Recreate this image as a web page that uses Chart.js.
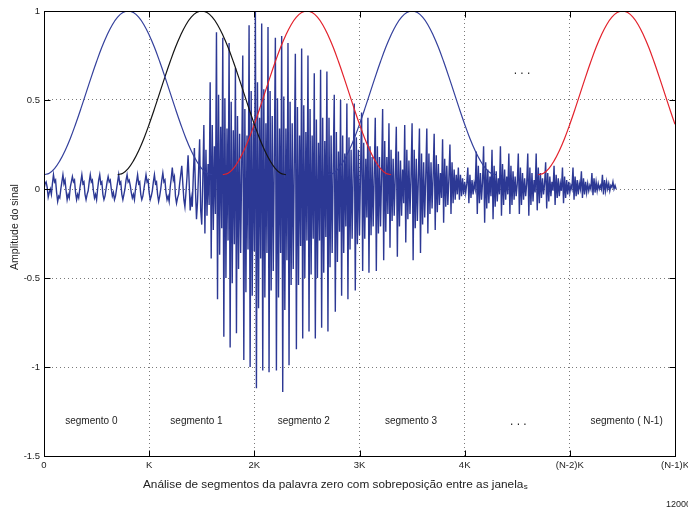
<!DOCTYPE html>
<html lang="pt">
<head>
<meta charset="utf-8">
<title>Análise de segmentos da palavra zero</title>
<script src="https://cdn.jsdelivr.net/npm/chart.js@4.4.0/dist/chart.umd.min.js"></script>
<style>
  html, body { margin: 0; padding: 0; background: #fff; }
  canvas { display: block; }
</style>
</head>
<body>
<canvas id="chart" width="688" height="510"></canvas>
<script>
// Samples between two stored values of the speech signal.
const SAMPLE_STEP = 10;

// Speech signal of the word "zero" (one value every SAMPLE_STEP samples).
const signal = [
  // fricative /z/
  0.0, 0.03, 0.04, 0.01, -0.045, -0.02, 0.0, -0.03, 0.03,
  0.08, 0.04, 0.05, -0.02, -0.07, -0.04, -0.05, 0.0, 0.04,
  0.08, 0.03, 0.05, -0.01, -0.06, -0.03, -0.05, 0.01, 0.04,
  0.07, 0.04, 0.05, -0.02, -0.06, -0.03, -0.05, 0.0, 0.04,
  0.08, 0.03, 0.04, -0.03, -0.06, -0.03, -0.01, 0.04,
  0.08, 0.04, 0.05, -0.01, -0.05, -0.03, -0.06, 0.0, 0.05,
  0.08, 0.03, 0.04, -0.03, -0.06, -0.04, 0.0, 0.04,
  0.07, 0.04, 0.05, 0.0, -0.04, -0.02, -0.06, -0.04, 0.0, 0.04,
  0.08, 0.03, 0.04, -0.03, -0.06, -0.03, 0.0, 0.05,
  0.08, 0.04, 0.05, 0.02, -0.02, -0.05, -0.03, -0.06, 0.0, 0.04,
  0.08, 0.03, 0.04, -0.03, -0.06, -0.04, 0.0, 0.04,
  0.08, 0.04, 0.05, -0.02, -0.06, -0.04, -0.01, 0.04,
  0.08, 0.03, 0.04, -0.03, -0.07, -0.04, 0.0, 0.05,
  0.09, 0.04, 0.05, -0.02, -0.06, -0.04, -0.07, 0.01, 0.06,
  0.12, 0.05, 0.07, -0.04, -0.08, -0.05, -0.03, 0.03, 0.08,
  0.13, 0.03, -0.06, -0.1, -0.02, 0.07,
  0.19, 0.04, -0.12, -0.05, -0.1, 0.08,
  0.23, 0.0, -0.17, -0.07, 0.1,
  0.28, -0.12, -0.2, 0.05,
  // vowels /e/ - /r/ - /o/
  0.36, -0.25, 0.22, -0.15, 0.14, -0.09,
  0.60, -0.39, 0.36, -0.23, 0.24, -0.14,
  0.88, -0.62, 0.53, -0.37, 0.35, -0.22,
  0.85, -0.83, 0.51, -0.50, 0.34, -0.29,
  0.82, -0.89, 0.49, -0.53, 0.33, -0.31,
  0.68, -0.81, 0.41, -0.45, 0.31, -0.36, 0.14,
  0.75, -0.96, 0.45, -0.58, 0.30, -0.34,
  0.92, -1.00, 0.55, -0.60, 0.37, -0.35,
  1.00, -1.12, 0.60, -0.67, 0.40, -0.39,
  0.93, -1.02, 0.56, -0.61, 0.37, -0.36,
  0.91, -1.03, 0.55, -0.57, 0.41, -0.46, 0.18,
  0.85, -1.02, 0.51, -0.61, 0.34, -0.36,
  0.86, -1.14, 0.52, -0.68, 0.34, -0.40,
  0.82, -0.99, 0.49, -0.54, 0.37, -0.45, 0.16,
  0.76, -0.90, 0.46, -0.54, 0.30, -0.32,
  0.79, -0.84, 0.47, -0.50, 0.32, -0.29,
  0.75, -0.80, 0.45, -0.48, 0.30, -0.28,
  0.65, -0.84, 0.39, -0.50, 0.26, -0.29,
  0.67, -0.78, 0.40, -0.47, 0.27, -0.27,
  0.66, -0.80, 0.40, -0.44, 0.30, -0.36, 0.13,
  0.53, -0.69, 0.32, -0.41, 0.21, -0.24,
  0.50, -0.60, 0.30, -0.36, 0.20, -0.21,
  0.48, -0.62, 0.29, -0.34, 0.22, -0.28, 0.10,
  0.48, -0.57, 0.29, -0.31, 0.22, -0.26, 0.10,
  0.43, -0.46, 0.26, -0.28, 0.17, -0.16,
  0.40, -0.47, 0.24, -0.26, 0.18, -0.21, 0.08,
  0.40, -0.46, 0.24, -0.25, 0.18, -0.21, 0.08,
  0.45, -0.40, 0.27, -0.24, 0.18, -0.14,
  0.37, -0.33, 0.22, -0.18, 0.17, -0.15, 0.07,
  0.35, -0.38, 0.21, -0.21, 0.16, -0.15, 0.11, -0.08,
  0.36, -0.30, 0.22, -0.17, 0.16, -0.14, 0.07,
  0.37, -0.40, 0.22, -0.22, 0.17, -0.18, 0.07,
  0.34, -0.36, 0.20, -0.20, 0.15, -0.16, 0.07,
  0.34, -0.25, 0.20, -0.14, 0.15, -0.11, 0.07,
  0.31, -0.23, 0.19, -0.13, 0.14, -0.09, 0.09, -0.05,
  0.28, -0.19, 0.17, -0.10, 0.13, -0.09, 0.06,
  0.25, -0.14, 0.15, -0.08, 0.11, -0.06, 0.08, -0.03,
  0.12, -0.06, 0.08, -0.04, 0.06, -0.03, 0.04, -0.02, 0.03,
  0.12, -0.08, 0.08, -0.05, 0.05, -0.03, 0.03, 0.0,
  0.21, -0.14, 0.13, -0.08, 0.09, -0.06, 0.04,
  0.24, -0.19, 0.15, -0.11, 0.11, -0.08, 0.07, -0.04,
  0.22, -0.17, 0.13, -0.10, 0.10, -0.07, 0.06, -0.03,
  0.24, -0.15, 0.14, -0.09, 0.11, -0.06, 0.07, -0.03,
  0.20, -0.14, 0.13, -0.09, 0.10, -0.06, 0.07, -0.04, 0.03,
  0.20, -0.14, 0.12, -0.09, 0.09, -0.06, 0.06, -0.04, 0.03,
  0.20, -0.15, 0.12, -0.09, 0.09, -0.07, 0.05, -0.02,
  0.20, -0.12, 0.12, -0.08, 0.09, -0.05, 0.06, -0.03, 0.03,
  0.15, -0.11, 0.09, -0.07, 0.07, -0.04, 0.04, -0.01,
  0.13, -0.09, 0.08, -0.05, 0.06, -0.04, 0.03, -0.01,
  0.12, -0.08, 0.07, -0.05, 0.05, -0.03, 0.04, -0.02, 0.02, 0.0,
  0.12, -0.06, 0.07, -0.04, 0.05, -0.03, 0.03, 0.0,
  0.10, -0.05, 0.06, -0.03, 0.04, -0.02, 0.03, -0.01, 0.02, 0.0,
  0.09, -0.035, 0.06, -0.02, 0.04, -0.01, 0.03, 0.0, 0.02, 0.0,
  0.08, -0.03, 0.05, -0.01, 0.04, 0.0, 0.03, -0.01, 0.02, 0.01,
  0.04, 0.0, 0.02, 0.0
];

// Hamming window, 33 values across one window.
const hammingShape = [
  0.080, 0.089, 0.115, 0.158, 0.215, 0.284, 0.364, 0.450, 0.540,
  0.630, 0.716, 0.796, 0.865, 0.923, 0.965, 0.991, 1.000,
  0.991, 0.965, 0.923, 0.865, 0.796, 0.716, 0.630, 0.540,
  0.450, 0.364, 0.284, 0.215, 0.158, 0.115, 0.089, 0.080
];
const WINDOW_LENGTH = 1600;                      // samples per window
const windowStarts = [0, 700, 1700, 2700, 4700]; // first sample of each window
const windowColors = ['#34409c', '#151515', '#e3222c', '#34409c', '#e3222c'];

// Axes
const xTickValues = [0, 1000, 2000, 3000, 4000, 5000, 6000];
const xTickLabels = ['0', 'K', '2K', '3K', '4K', '(N-2)K', '(N-1)K'];
const yTickValues = [-1.5, -1, -0.5, 0, 0.5, 1];
const yTickLabels = ['-1.5', '-1', '-0.5', '0', '0.5', '1'];

// Texts placed inside the plot
const segmentLabels = ['segmento 0', 'segmento 1', 'segmento 2', 'segmento 3', '. . .', 'segmento ( N-1)'];
const segmentLabelX = [450, 1450, 2470, 3490, 4510, 5540];
const SEGMENT_LABEL_Y = -1.305;
const xTitle = 'Análise de segmentos da palavra zero com sobreposição entre as janela';
const xTitleTail = 's';
const yTitle = 'Amplitude do sinal';
const cornerNote = '12000';

const FONT = '"Liberation Sans", Arial, Helvetica, sans-serif';
const TEXT = '#222';

const datasets = [];
windowStarts.forEach((start, w) => {
  const step = WINDOW_LENGTH / (hammingShape.length - 1);
  datasets.push({
    data: hammingShape.map((v, k) => ({ x: start + k * step, y: v })),
    borderColor: windowColors[w],
    borderWidth: 1.2,
    tension: 0.4,
    pointRadius: 0,
    order: 0
  });
});
datasets.push({
  data: signal.map((v, i) => ({ x: i * SAMPLE_STEP, y: v })),
  borderColor: '#2c3894',
  borderWidth: 1.4,
  tension: 0,
  pointRadius: 0,
  order: 1
});

// Box, inward tick marks and the free texts.
const decorations = {
  id: 'decorations',
  afterDatasetsDraw(chart) {
    const { ctx, chartArea: a, scales: { x, y } } = chart;
    const L = Math.round(a.left) + 0.5, R = Math.round(a.right) + 0.5;
    const T = Math.round(a.top) + 0.5, B = Math.round(a.bottom) + 0.5;
    ctx.save();
    ctx.strokeStyle = '#000';
    ctx.lineWidth = 1;
    ctx.beginPath();
    xTickValues.forEach(v => {
      const px = Math.round(x.getPixelForValue(v)) + 0.5;
      ctx.moveTo(px, B); ctx.lineTo(px, B - 6);
      ctx.moveTo(px, T); ctx.lineTo(px, T + 6);
    });
    yTickValues.forEach(v => {
      const py = Math.round(y.getPixelForValue(v)) + 0.5;
      ctx.moveTo(L, py); ctx.lineTo(L + 6, py);
      ctx.moveTo(R, py); ctx.lineTo(R - 6, py);
    });
    ctx.stroke();
    ctx.strokeRect(L, T, R - L, B - T);

    ctx.fillStyle = TEXT;
    ctx.textBaseline = 'middle';
    ctx.textAlign = 'center';
    segmentLabels.forEach((s, i) => {
      const dots = s.startsWith('.');
      ctx.font = (dots ? '12px ' : '10px ') + FONT;
      ctx.fillText(s, x.getPixelForValue(segmentLabelX[i]), y.getPixelForValue(SEGMENT_LABEL_Y));
    });
    ctx.font = '12px ' + FONT;
    ctx.fillText('. . .', x.getPixelForValue(4545), y.getPixelForValue(0.665));

    // axis titles
    ctx.textAlign = 'left';
    ctx.font = '11.8px ' + FONT;
    const tx = 143, ty = 485;
    ctx.fillText(xTitle, tx, ty);
    const w = ctx.measureText(xTitle).width;
    ctx.font = '8px ' + FONT;
    ctx.fillText(xTitleTail, tx + w + 0.5, ty + 2);

    ctx.font = '9px ' + FONT;
    ctx.fillText(cornerNote, 666, 505);

    ctx.save();
    ctx.translate(15, 227);
    ctx.rotate(-Math.PI / 2);
    ctx.textAlign = 'center';
    ctx.font = '10.5px ' + FONT;
    ctx.fillText(yTitle, 0, 0);
    ctx.restore();
    ctx.restore();
  }
};

new Chart(document.getElementById('chart'), {
  type: 'line',
  data: { datasets },
  plugins: [decorations],
  options: {
    responsive: false,
    devicePixelRatio: 1,
    animation: false,
    events: [],
    layout: { padding: { top: 11, right: 13, left: 0, bottom: 0 } },
    plugins: { legend: { display: false }, tooltip: { enabled: false } },
    scales: {
      x: {
        type: 'linear',
        min: 0,
        max: 6000,
        afterBuildTicks: s => { s.ticks = xTickValues.map(v => ({ value: v })); },
        afterFit: s => { s.height = 54; s.paddingLeft = 0; s.paddingRight = 0; },
        ticks: {
          autoSkip: false,
          maxRotation: 0,
          padding: 4,
          color: TEXT,
          font: { family: FONT, size: 9.5 },
          callback: v => xTickLabels[xTickValues.indexOf(v)]
        },
        grid: { color: '#7a7a7a', lineWidth: 1, drawTicks: false },
        border: { display: false, dash: [1, 3] }
      },
      y: {
        type: 'linear',
        min: -1.5,
        max: 1,
        afterBuildTicks: s => { s.ticks = yTickValues.map(v => ({ value: v })); },
        afterFit: s => { s.width = 44; },
        ticks: {
          padding: 4,
          color: TEXT,
          font: { family: FONT, size: 9.5 },
          callback: v => yTickLabels[yTickValues.indexOf(v)]
        },
        grid: { color: '#7a7a7a', lineWidth: 1, drawTicks: false },
        border: { display: false, dash: [1, 3] }
      }
    }
  }
});
</script>
</body>
</html>
